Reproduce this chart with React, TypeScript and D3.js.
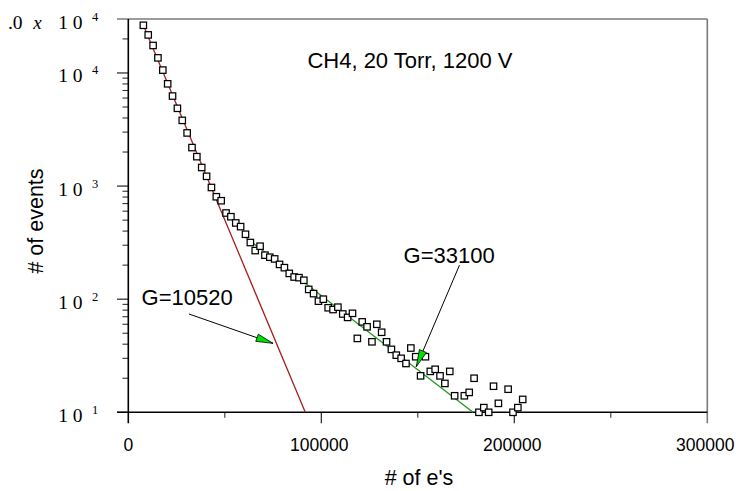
import React from 'react';
import * as d3 from 'd3';

// Bin centres (# of e's) and counts (# of events)
const binCenters = [
  7800, 10320, 12840, 15360, 17880, 20400, 22920, 25440, 27960, 30480,
  33000, 35520, 38040, 40560, 43080, 45600, 48120, 50640, 53160, 55680,
  58200, 60720, 63240, 65760, 68280, 70800, 73320, 75840, 78360, 80880,
  83400, 85920, 88440, 90960, 93480, 96000, 98520, 101040, 103560, 106080,
  108600, 111120, 113640, 116160, 118680, 121200, 123720, 126240, 128760, 131280,
  133800, 136320, 138840, 141360, 143880, 146400, 148920, 151440, 153960, 156480,
  159000, 161520, 164040, 166560, 169080, 171600, 174120, 176640, 179160, 181680,
  184200, 186720, 189240, 191760, 194280, 196800, 199320, 201840, 204360,
];
const eventCounts = [
  26400, 21700, 17500, 13600, 10600, 8020, 6250, 4870, 3810, 2950,
  2190, 1820, 1460, 1220, 972, 805, 742, 578, 536, 472,
  438, 375, 317, 269, 294, 245, 235, 227, 203, 190,
  169, 157, 155, 147, 122, 112, 96, 100, 84, 81,
  85, 74, 69, 75, 45, 63, 57, 42, 60, 51,
  42, 36, 32, 30, 27, 37, 31, 21, 31, 23,
  24, 21, 18, 23, 14, 0, 14, 15, 20, 10,
  11, 10, 17, 12, 0, 16, 10, 11, 13,
];

// Exponential fits (straight lines on log scale): endpoints [x, count]
const fitLowGain = [[7800, 26400], [91700, 10]];     // G=10520
const fitHighGain = [[60000, 360], [178600, 10]];    // G=33100

const xMajorTicks = [0, 100000, 200000, 300000];
const xMinorTicks = [50000, 150000, 250000];
const xTickLabels = ['0', '100000', '200000', '300000'];
const yDecadeTicks = [10, 100, 1000, 10000];
const yDecadeExponents = ['1', '2', '3', '4'];
const yTopValue = 30000;
const yTopMantissa = '.0';
const yTopExponent = '4';

const titleText = 'CH4, 20 Torr, 1200 V';
const titlePos = [92800, 11000];
const gainLabels = ['G=10520', 'G=33100'];
const gainLabelPos = [[6900, 88], [142600, 210]];
const gainArrowTail = [[31400, 74], [171600, 200]];
const gainArrowTip = [[75000, 40.7], [149200, 25.3]];

const W = 736;
const H = 491;
const SANS = '"Liberation Sans", Arial, sans-serif';
const SERIF = '"Liberation Serif", "Times New Roman", serif';

export default function App() {
  const x = d3.scaleLinear().domain([0, 300000]).range([128.3, 707.3]);
  const y = d3.scaleLog().domain([10, yTopValue]).range([412.3, 19]);
  const x0 = x.range()[0];
  const x1 = x.range()[1];
  const yBot = y.range()[0];
  const yTop = y.range()[1];

  const minorY = y.ticks().filter(
    (v) => Math.abs(Math.log10(v) - Math.round(Math.log10(v))) > 1e-9 && v < yTopValue
  );

  const line = d3
    .line<number[]>()
    .x((d) => x(d[0]))
    .y((d) => y(d[1]));

  const points = binCenters
    .map((b, i) => [b, eventCounts[i]])
    .filter((d) => d[1] > 0);

  const arrows = gainArrowTail.map((t, i) => {
    const tx = x(t[0]), ty = y(t[1]);
    const px = x(gainArrowTip[i][0]), py = y(gainArrowTip[i][1]);
    const dx = px - tx, dy = py - ty;
    const len = Math.hypot(dx, dy);
    const ux = dx / len, uy = dy / len;
    const L = 17, w = 3.8;
    const bx = px - ux * L, by = py - uy * L;
    const head = [
      [px, py],
      [bx - uy * w, by + ux * w],
      [bx + uy * w, by - ux * w],
    ];
    return { tx, ty, px, py, head };
  });

  const yLabels = [...yDecadeTicks, yTopValue];
  const yExps = [...yDecadeExponents, yTopExponent];

  return (
    <svg
      width={W}
      height={H}
      style={{ position: 'absolute', left: 0, top: 0, background: '#fff' }}
    >
      {/* frame: gray top & right */}
      <line x1={117} x2={x1} y1={yTop} y2={yTop} stroke="#7a7a7a" strokeWidth={1.6} />
      <line x1={x1} x2={x1} y1={yTop} y2={yBot + 11} stroke="#7a7a7a" strokeWidth={1.6} />

      {/* y ticks */}
      {yDecadeTicks.map((v) => (
        <line key={'ym' + v} x1={117} x2={x0} y1={y(v)} y2={y(v)} stroke="#222" strokeWidth={1.2} />
      ))}
      {minorY.map((v) => (
        <line key={'yn' + v} x1={122.5} x2={x0} y1={y(v)} y2={y(v)} stroke="#333" strokeWidth={1.1} />
      ))}

      {/* x ticks */}
      {xMajorTicks.slice(1, 3).map((v) => (
        <line key={'xm' + v} x1={x(v)} x2={x(v)} y1={yBot} y2={yBot + 11} stroke="#222" strokeWidth={1.2} />
      ))}
      {xMinorTicks.map((v) => (
        <line key={'xn' + v} x1={x(v)} x2={x(v)} y1={yBot} y2={yBot + 5.5} stroke="#333" strokeWidth={1.1} />
      ))}

      {/* axes */}
      <line x1={x0} x2={x0} y1={yTop} y2={yBot + 11} stroke="#000" strokeWidth={1.6} />
      <line x1={117} x2={x1} y1={yBot} y2={yBot} stroke="#000" strokeWidth={1.6} />

      {/* x tick labels */}
      {xMajorTicks.map((v, i) => (
        <text key={'xl' + v} x={x(v) - (i > 0 ? 2 : 0)} y={451} textAnchor="middle" fontFamily={SANS} fontSize={17.5} fill="#000">
          {xTickLabels[i]}
        </text>
      ))}

      {/* y tick labels */}
      {yLabels.map((v, i) => (
        <g key={'yl' + v} fontFamily={SERIF} fill="#000">
          <text x={82.5} y={y(v) + 9.5} textAnchor="end" fontSize={19.5}>1 0</text>
          <text x={92} y={y(v) + 1.5} fontSize={12.5}>{yExps[i]}</text>
        </g>
      ))}
      <g fontFamily={SERIF} fill="#000">
        <text x={22.5} y={y(yTopValue) + 9.5} textAnchor="end" fontSize={19.5}>{yTopMantissa}</text>
        <text x={37.5} y={y(yTopValue) + 9.5} textAnchor="middle" fontSize={19} fontStyle="italic">x</text>
      </g>

      {/* fits */}
      <path d={line(fitLowGain) || ''} fill="none" stroke="#a3201c" strokeWidth={1.3} />
      <path d={line(fitHighGain) || ''} fill="none" stroke="#1c9a1c" strokeWidth={1.3} />

      {/* data points */}
      {points.map((d, i) => (
        <rect
          key={'p' + i}
          x={x(d[0]) - 3.2}
          y={y(d[1]) - 3.2}
          width={6.4}
          height={6.4}
          fill="#fff"
          stroke="#000"
          strokeWidth={1.25}
        />
      ))}

      {/* annotations */}
      <text x={x(titlePos[0])} y={y(titlePos[1])} fontFamily={SANS} fontSize={22} fill="#000">
        {titleText}
      </text>
      {gainLabels.map((t, i) => (
        <text key={t} x={x(gainLabelPos[i][0])} y={y(gainLabelPos[i][1])} fontFamily={SANS} fontSize={22} fill="#000">
          {t}
        </text>
      ))}
      {arrows.map((a, i) => (
        <g key={'a' + i}>
          <line x1={a.tx} y1={a.ty} x2={a.px} y2={a.py} stroke="#000" strokeWidth={1} />
          <polygon points={a.head.map((p) => p.join(',')).join(' ')} fill="#00e000" stroke="#000" strokeWidth={0.8} />
        </g>
      ))}

      {/* axis titles */}
      <text x={419} y={485} textAnchor="middle" fontFamily={SANS} fontSize={21.5} fill="#000">
        # of e's
      </text>
      <text
        transform={`translate(42.5, 221) rotate(-90)`}
        textAnchor="middle"
        fontFamily={SANS}
        fontSize={21.5}
        fill="#000"
      >
        # of events
      </text>
    </svg>
  );
}
